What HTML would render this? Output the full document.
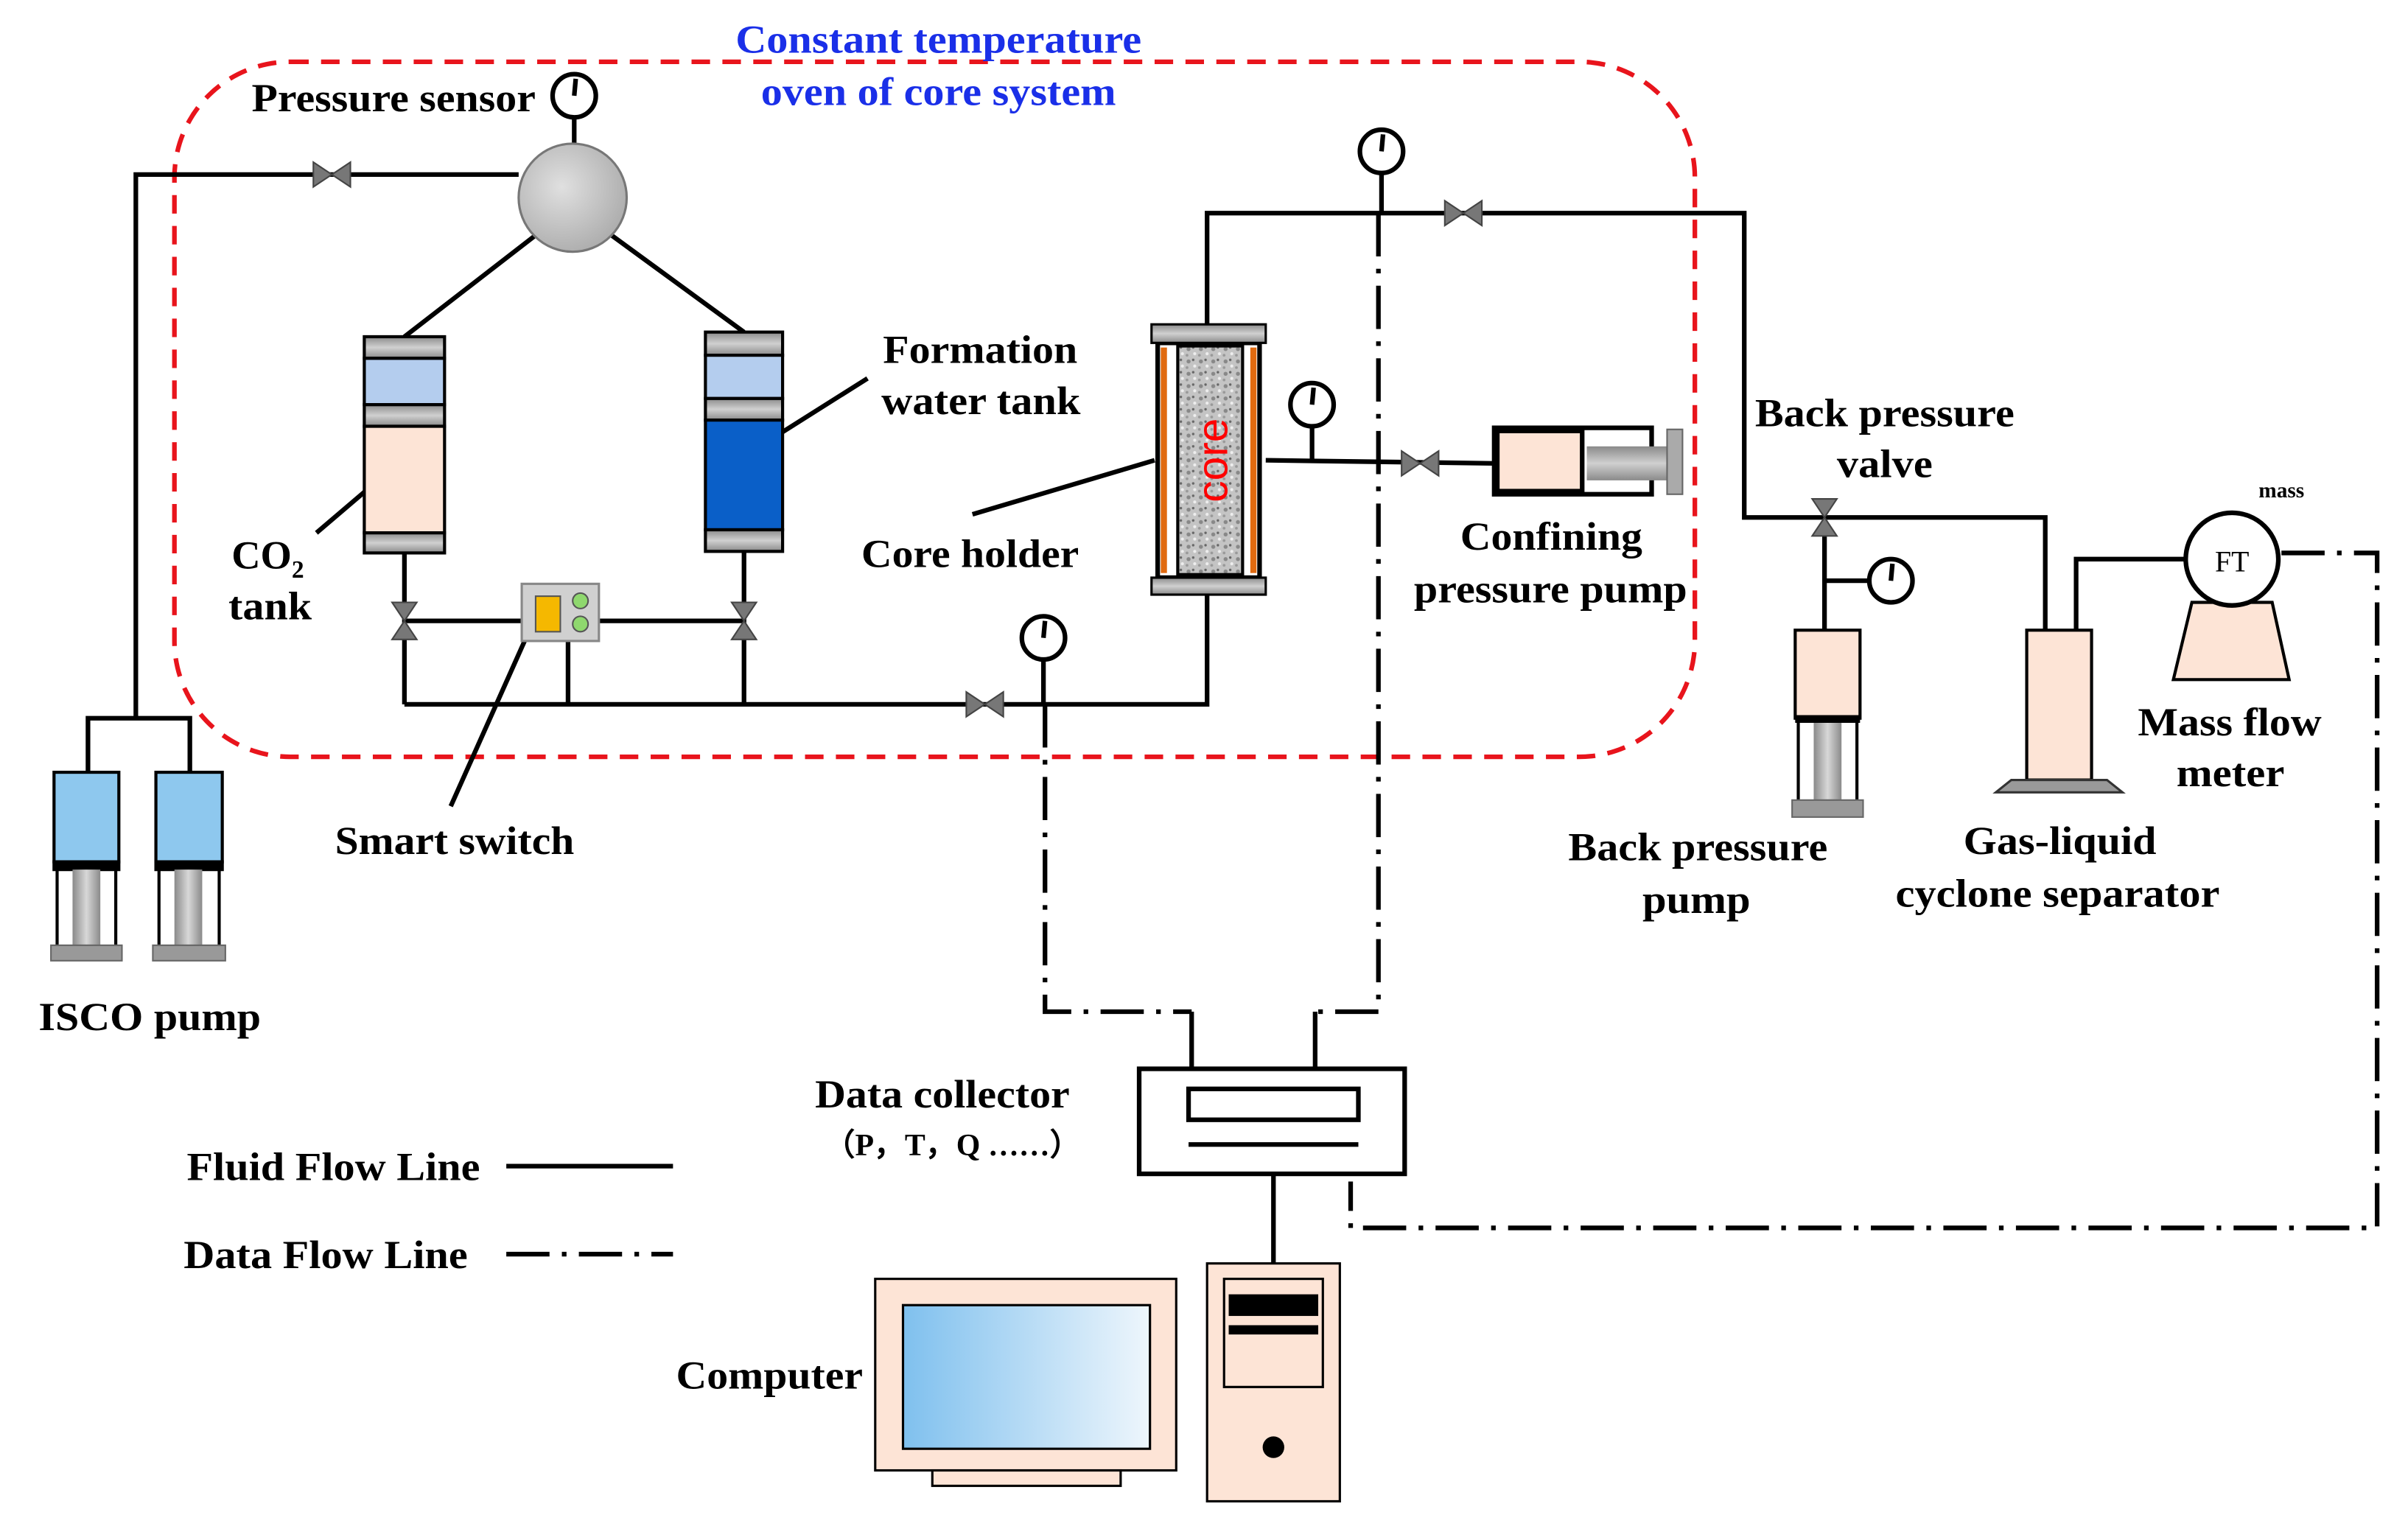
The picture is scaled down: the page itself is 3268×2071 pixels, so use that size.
<!DOCTYPE html>
<html><head><meta charset="utf-8"><style>
html,body{margin:0;padding:0;background:#fff;}
svg{display:block;}
text{font-family:"Liberation Serif",serif;font-weight:bold;}
</style></head><body>
<svg width="3268" height="2071" viewBox="0 0 1560 988" preserveAspectRatio="none" xmlns="http://www.w3.org/2000/svg">
<defs>
<linearGradient id="gr" x1="0" x2="1" y1="0" y2="0"><stop offset="0" stop-color="#8a8a8a"/><stop offset="0.5" stop-color="#d8d8d8"/><stop offset="1" stop-color="#8a8a8a"/></linearGradient>
<linearGradient id="grv" x1="0" x2="0" y1="0" y2="1"><stop offset="0" stop-color="#8a8a8a"/><stop offset="0.5" stop-color="#d0d0d0"/><stop offset="1" stop-color="#8a8a8a"/></linearGradient>
<linearGradient id="scr" x1="0" x2="1" y1="0" y2="0"><stop offset="0" stop-color="#7fc0ee"/><stop offset="1" stop-color="#eef6fc"/></linearGradient>
<radialGradient id="ball" cx="0.4" cy="0.4" r="0.7"><stop offset="0" stop-color="#e0e0e0"/><stop offset="1" stop-color="#a8a8a8"/></radialGradient>
<pattern id="rock" width="8" height="8" patternUnits="userSpaceOnUse"><rect width="8" height="8" fill="#c4c4c4"/><circle cx="2" cy="2" r="1.3" fill="#888"/><circle cx="6" cy="5" r="1" fill="#eee"/><circle cx="5" cy="1" r="0.8" fill="#666"/><circle cx="1" cy="6" r="0.9" fill="#999"/></pattern>
<g id="valveH"><polygon points="-12,-8 -12,8 12,-8 12,8" fill="#777" stroke="#444" stroke-width="1"/></g>
<g id="valveV"><polygon points="-8,-12 8,-12 -8,12 8,12" fill="#777" stroke="#444" stroke-width="1"/></g>
<g id="gauge"><circle r="14" fill="#fff" stroke="#000" stroke-width="3"/><line x1="0" y1="0" x2="1" y2="-11" stroke="#000" stroke-width="3"/></g>
</defs>

<rect x="113" y="40" width="985" height="450" rx="75" fill="none" stroke="#e8141c" stroke-width="3" stroke-dasharray="12,8"/>
<text x="608" y="34" font-size="26" fill="#1a2fe8" text-anchor="middle" textLength="263" lengthAdjust="spacingAndGlyphs">Constant temperature</text>
<text x="608" y="68" font-size="26" fill="#1a2fe8" text-anchor="middle" textLength="230" lengthAdjust="spacingAndGlyphs">oven of core system</text>

<g stroke="#000" stroke-width="3" fill="none">
<polyline points="336,113 88,113 88,465"/>
<polyline points="57,500 57,465 123,465 123,500"/>
<line x1="350" y1="150" x2="262" y2="218"/>
<line x1="393" y1="150" x2="482" y2="215"/>
<line x1="262" y1="358" x2="262" y2="456"/>
<line x1="482" y1="357" x2="482" y2="456"/>
<line x1="262" y1="402" x2="338" y2="402"/>
<line x1="388" y1="402" x2="482" y2="402"/>
<line x1="368" y1="415" x2="368" y2="456"/>
<polyline points="262,456 782,456 782,385"/>
<line x1="676" y1="427" x2="676" y2="456"/>
<polyline points="782,210 782,138 1130,138 1130,335 1325,335 1325,408"/>
<line x1="895" y1="112" x2="895" y2="138"/>
<line x1="820" y1="298" x2="968" y2="300"/>
<line x1="850" y1="276" x2="850" y2="298"/>
<line x1="1182" y1="335" x2="1182" y2="408"/>
<line x1="1182" y1="376" x2="1211" y2="376"/>
<polyline points="1345,408 1345,362 1416,362"/>
<line x1="825" y1="760" x2="825" y2="818"/>
<line x1="772" y1="655" x2="772" y2="692"/>
<line x1="852" y1="655" x2="852" y2="692"/>
<line x1="328" y1="755" x2="436" y2="755"/>
<line x1="205" y1="345" x2="252" y2="305"/>
<line x1="478" y1="298" x2="562" y2="245"/>
<line x1="630" y1="333" x2="748" y2="298"/>
<line x1="292" y1="522" x2="343" y2="408"/>
</g>

<g stroke="#000" stroke-width="3" fill="none" stroke-dasharray="28,8,3,8">
<polyline points="677,456 677,655 772,655"/>
<polyline points="893,138 893,655 852,655"/>
<polyline points="1478,358 1540,358 1540,795 875,795 875,765"/>
<line x1="328" y1="812" x2="436" y2="812"/>
</g>

<use href="#valveH" x="215" y="113"/>
<use href="#valveH" x="638" y="456"/>
<use href="#valveH" x="948" y="138"/>
<use href="#valveH" x="920" y="300"/>
<use href="#valveV" x="262" y="402"/>
<use href="#valveV" x="482" y="402"/>
<use href="#valveV" x="1182" y="335"/>

<line x1="372" y1="76" x2="372" y2="94" stroke="#000" stroke-width="3"/>
<use href="#gauge" x="372" y="62"/>
<use href="#gauge" x="895" y="98"/>
<use href="#gauge" x="850" y="262"/>
<use href="#gauge" x="676" y="413"/>
<use href="#gauge" x="1225" y="376"/>

<circle cx="371" cy="128" r="35" fill="url(#ball)" stroke="#777" stroke-width="1.5"/>

<g stroke="#000" stroke-width="2">
<rect x="236" y="218" width="52" height="14" fill="url(#grv)"/>
<rect x="236" y="232" width="52" height="30" fill="#b4cdee"/>
<rect x="236" y="262" width="52" height="14" fill="url(#grv)"/>
<rect x="236" y="276" width="52" height="69" fill="#fde4d6"/>
<rect x="236" y="345" width="52" height="13" fill="url(#grv)"/>
<rect x="457" y="215" width="50" height="15" fill="url(#grv)"/>
<rect x="457" y="230" width="50" height="28" fill="#b4cdee"/>
<rect x="457" y="258" width="50" height="14" fill="url(#grv)"/>
<rect x="457" y="272" width="50" height="71" fill="#0a5fc8"/>
<rect x="457" y="343" width="50" height="14" fill="url(#grv)"/>
</g>

<rect x="338" y="378" width="50" height="37" fill="#d0d0d0" stroke="#888" stroke-width="1.5"/>
<rect x="347" y="386" width="16" height="23" fill="#f5b800" stroke="#555" stroke-width="1"/>
<circle cx="376" cy="389" r="5" fill="#8fd86e" stroke="#555" stroke-width="1"/>
<circle cx="376" cy="404" r="5" fill="#8fd86e" stroke="#555" stroke-width="1"/>

<rect x="750" y="222" width="66" height="152" fill="#fff" stroke="#000" stroke-width="3"/>
<rect x="752" y="225" width="4" height="146" fill="#e06a10"/>
<rect x="810" y="225" width="4" height="146" fill="#e06a10"/>
<rect x="763" y="224" width="42" height="148" fill="url(#rock)" stroke="#000" stroke-width="2"/>
<rect x="746" y="210" width="74" height="12" fill="url(#grv)" stroke="#000" stroke-width="1.5"/>
<rect x="746" y="374" width="74" height="11" fill="url(#grv)" stroke="#000" stroke-width="1.5"/>
<text x="0" y="0" font-size="28" fill="#f00" style="font-family:'Liberation Sans',sans-serif;font-weight:normal" text-anchor="middle" transform="translate(795,298) rotate(-90)">core</text>

<rect x="968" y="277" width="102" height="43" fill="#fff" stroke="#000" stroke-width="3"/>
<rect x="970" y="279" width="55" height="39" fill="#fde4d6" stroke="#000" stroke-width="3"/>
<rect x="1028" y="289" width="52" height="22" fill="url(#grv)"/>
<rect x="1080" y="278" width="10" height="42" fill="#aaa" stroke="#666" stroke-width="1"/>

<g stroke="#000" stroke-width="2">
<rect x="35" y="500" width="42" height="58" fill="#8ec8ee"/>
<rect x="35" y="558" width="42" height="5" fill="#000"/>
<rect x="101" y="500" width="43" height="58" fill="#8ec8ee"/>
<rect x="101" y="558" width="43" height="5" fill="#000"/>
</g>
<g stroke="#000" stroke-width="2" fill="none">
<polyline points="37,563 37,612"/><polyline points="75,563 75,612"/>
<polyline points="103,563 103,612"/><polyline points="142,563 142,612"/>
</g>
<rect x="47" y="563" width="18" height="49" fill="url(#gr)"/>
<rect x="113" y="563" width="18" height="49" fill="url(#gr)"/>
<rect x="33" y="612" width="46" height="10" fill="#999" stroke="#666"/>
<rect x="99" y="612" width="47" height="10" fill="#999" stroke="#666"/>

<rect x="1163" y="408" width="42" height="57" fill="#fde4d6" stroke="#000" stroke-width="2"/>
<rect x="1163" y="463" width="42" height="5" fill="#000"/>
<line x1="1165" y1="468" x2="1165" y2="518" stroke="#000" stroke-width="2"/>
<line x1="1203" y1="468" x2="1203" y2="518" stroke="#000" stroke-width="2"/>
<rect x="1175" y="468" width="18" height="50" fill="url(#gr)"/>
<rect x="1161" y="518" width="46" height="11" fill="#999" stroke="#666"/>

<rect x="1313" y="408" width="42" height="97" fill="#fde4d6" stroke="#000" stroke-width="2"/>
<polygon points="1303,505 1365,505 1375,513 1293,513" fill="#999" stroke="#333" stroke-width="1.5"/>

<polygon points="1420,390 1472,390 1483,440 1408,440" fill="#fde4d6" stroke="#000" stroke-width="2"/>
<circle cx="1446" cy="362" r="30" fill="#fff" stroke="#000" stroke-width="3"/>
<text x="1446" y="370" font-size="19" text-anchor="middle" style="font-weight:normal">FT</text>
<text x="1478" y="322" font-size="14" text-anchor="middle">mass</text>

<rect x="738" y="692" width="172" height="68" fill="#fff" stroke="#000" stroke-width="3"/>
<rect x="770" y="705" width="110" height="20" fill="#fff" stroke="#000" stroke-width="3"/>
<line x1="770" y1="741" x2="880" y2="741" stroke="#000" stroke-width="3"/>

<rect x="567" y="828" width="195" height="124" fill="#fde4d6" stroke="#000" stroke-width="1.5"/>
<rect x="585" y="845" width="160" height="93" fill="url(#scr)" stroke="#000" stroke-width="1.5"/>
<rect x="604" y="952" width="122" height="10" fill="#fde4d6" stroke="#000" stroke-width="1.5"/>
<rect x="782" y="818" width="86" height="154" fill="#fde4d6" stroke="#000" stroke-width="1.5"/>
<rect x="793" y="828" width="64" height="70" fill="#fde4d6" stroke="#000" stroke-width="1.5"/>
<rect x="796" y="838" width="58" height="14" fill="#000"/>
<rect x="796" y="858" width="58" height="6" fill="#000"/>
<circle cx="825" cy="937" r="7" fill="#000"/>

<g font-size="26" fill="#000">
<text x="163" y="72" textLength="184" lengthAdjust="spacingAndGlyphs">Pressure sensor</text>
<text x="572" y="235" textLength="126" lengthAdjust="spacingAndGlyphs">Formation</text>
<text x="571" y="268" textLength="129" lengthAdjust="spacingAndGlyphs">water tank</text>
<text x="150" y="368">CO<tspan font-size="16" dy="6">2</tspan></text>
<text x="148" y="401" textLength="54" lengthAdjust="spacingAndGlyphs">tank</text>
<text x="558" y="367" textLength="141" lengthAdjust="spacingAndGlyphs">Core holder</text>
<text x="217" y="553" textLength="155" lengthAdjust="spacingAndGlyphs">Smart switch</text>
<text x="25" y="667" textLength="144" lengthAdjust="spacingAndGlyphs">ISCO pump</text>
<text x="946" y="356" textLength="118" lengthAdjust="spacingAndGlyphs">Confining</text>
<text x="916" y="390" textLength="177" lengthAdjust="spacingAndGlyphs">pressure pump</text>
<text x="1137" y="276" textLength="168" lengthAdjust="spacingAndGlyphs">Back pressure</text>
<text x="1190" y="309" textLength="62" lengthAdjust="spacingAndGlyphs">valve</text>
<text x="1385" y="476" textLength="119" lengthAdjust="spacingAndGlyphs">Mass flow</text>
<text x="1410" y="509" textLength="70" lengthAdjust="spacingAndGlyphs">meter</text>
<text x="1016" y="557" textLength="168" lengthAdjust="spacingAndGlyphs">Back pressure</text>
<text x="1064" y="591" textLength="70" lengthAdjust="spacingAndGlyphs">pump</text>
<text x="1272" y="553" textLength="125" lengthAdjust="spacingAndGlyphs">Gas-liquid</text>
<text x="1228" y="587" textLength="210" lengthAdjust="spacingAndGlyphs">cyclone separator</text>
<text x="528" y="717" textLength="165" lengthAdjust="spacingAndGlyphs">Data collector</text>
<text x="617" y="748" text-anchor="middle" font-size="20">（P，T，Q ……）</text>
<text x="121" y="764" textLength="190" lengthAdjust="spacingAndGlyphs">Fluid Flow Line</text>
<text x="119" y="821" textLength="184" lengthAdjust="spacingAndGlyphs">Data Flow Line</text>
<text x="438" y="899" textLength="121" lengthAdjust="spacingAndGlyphs">Computer</text>
</g>
</svg>
</body></html>
